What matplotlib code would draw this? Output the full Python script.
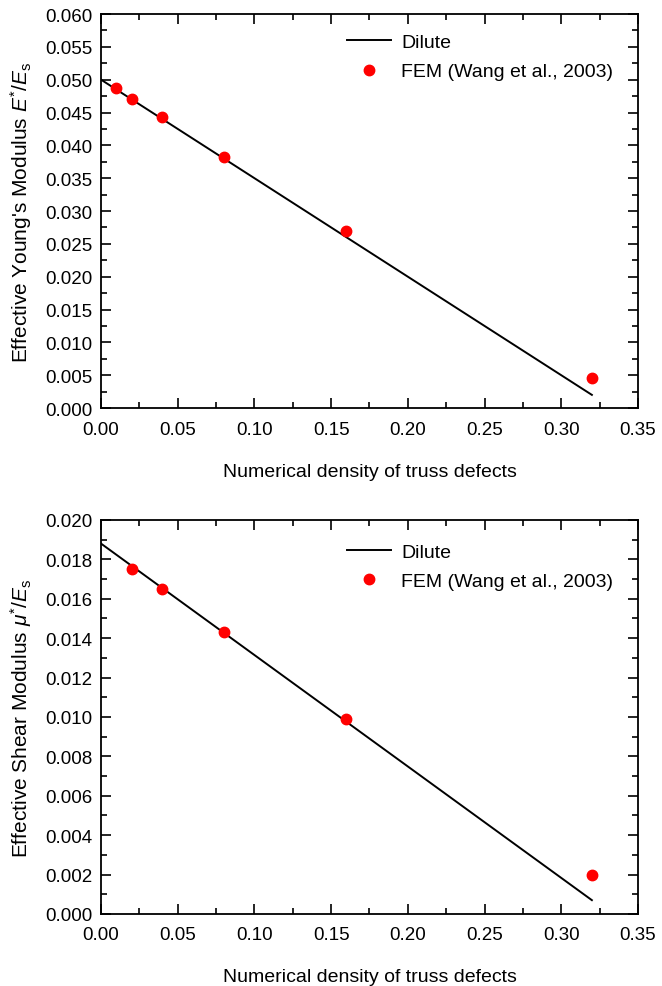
import matplotlib
matplotlib.use('Agg')
import matplotlib.pyplot as plt
from matplotlib.ticker import MultipleLocator

plt.rcParams['font.family'] = ['Liberation Sans', 'DejaVu Sans']
plt.rcParams['mathtext.fontset'] = 'custom'
plt.rcParams['mathtext.rm'] = 'Liberation Sans'
plt.rcParams['mathtext.it'] = 'Liberation Sans:italic'
plt.rcParams['font.size'] = 13.5

# top panel: Young's modulus
dilute_x_E = [0.0, 0.32]
dilute_y_E = [0.0500, 0.0020]
fem_x_E = [0.01, 0.02, 0.04, 0.08, 0.16, 0.32]
fem_y_E = [0.0487, 0.0471, 0.0443, 0.0382, 0.0270, 0.0045]

# bottom panel: shear modulus
dilute_x_G = [0.0, 0.32]
dilute_y_G = [0.0188, 0.0007]
fem_x_G = [0.02, 0.04, 0.08, 0.16, 0.32]
fem_y_G = [0.0175, 0.0165, 0.0143, 0.0099, 0.0020]

fig = plt.figure(figsize=(6.62, 9.87), dpi=100)
ax1 = fig.add_axes([0.1526, 0.5856, 0.811, 0.3992])
ax2 = fig.add_axes([0.1526, 0.0730, 0.811, 0.3992])

panels = [
    (ax1, dilute_x_E, dilute_y_E, fem_x_E, fem_y_E, 0.060, 0.005,
     "Effective Young's Modulus $E^{*}/E_{\\mathrm{s}}$", (0.425, 0.995)),
    (ax2, dilute_x_G, dilute_y_G, fem_x_G, fem_y_G, 0.020, 0.002,
     "Effective Shear Modulus $\\mu^{*}/E_{\\mathrm{s}}$", (0.425, 0.985)),
]

for ax, dx, dy, fx, fy, ymax, ystep, ylab, legpos in panels:
    ax.plot(dx, dy, color='black', linewidth=1.4, label='Dilute')
    ax.plot(fx, fy, 'o', color='#ff0000', markersize=7.5, label='FEM (Wang et al., 2003)')
    ax.set_xlim(0, 0.35)
    ax.set_ylim(0, ymax)
    ax.xaxis.set_major_locator(MultipleLocator(0.05))
    ax.xaxis.set_minor_locator(MultipleLocator(0.025))
    ax.yaxis.set_major_locator(MultipleLocator(ystep))
    ax.yaxis.set_minor_locator(MultipleLocator(ystep / 2))
    ax.xaxis.set_major_formatter(plt.FormatStrFormatter('%.2f'))
    ax.yaxis.set_major_formatter(plt.FormatStrFormatter('%.3f'))
    ax.tick_params(which='both', direction='in', top=True, right=True, width=1.2)
    ax.tick_params(which='major', length=7, labelsize=13.5, pad=6)
    ax.tick_params(axis='x', which='major', pad=9)
    ax.tick_params(which='minor', length=4)
    for s in ax.spines.values():
        s.set_linewidth(1.3)
    ax.set_xlabel('Numerical density of truss defects', fontsize=14, labelpad=18)
    ax.set_ylabel(ylab, fontsize=15, labelpad=8)
    ax.legend(loc='upper left', bbox_to_anchor=legpos, frameon=False,
              fontsize=14, handlelength=2.3, handletextpad=0.5,
              labelspacing=0.6, numpoints=1)

fig.savefig('out.png', dpi=100)
